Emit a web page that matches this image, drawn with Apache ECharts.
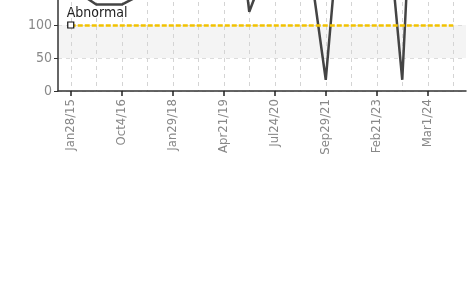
<!DOCTYPE html>
<html>
<head>
<meta charset="utf-8">
<script src="https://cdn.jsdelivr.net/npm/echarts@6/dist/echarts.min.js"></script>
<style>
  html, body { margin: 0; padding: 0; background: #fff; overflow: hidden; width: 474px; height: 303px; }
  /* the chart runs off the top of the frame, as in the reference */
  #main { position: absolute; left: 0; top: -500px; width: 474px; height: 803px; }
</style>
</head>
<body>
<div id="main"></div>
<script>
// categories (only every other one gets a label)
var dates = ['Jan28/15', 'Nov22/15', 'Oct4/16', 'May9/17', 'Jan29/18', 'Aug30/18',
  'Apr21/19', 'Nov6/19', 'Jul24/20', 'Feb15/21', 'Sep29/21', 'May27/22',
  'Feb21/23', 'Aug10/23', 'Mar1/24', 'Jun18/24'];
// readings (most peaks are above the visible frame)
var values = [157, 131, 131, 151, 260, 380, 447, 120, 222, 297, 17, 458, 432, 17, 800, 620];
// abnormal threshold
var threshold = 100;
var thresholdName = 'Abnormal';

var font = '"DejaVu Sans Condensed", "Liberation Sans Narrow", sans-serif';
var myChart = echarts.init(document.getElementById('main'));

myChart.setOption({
    animation: false,
    grid: {
        left: 58,
        right: 8,
        top: 30,
        bottom: 212
    },
    xAxis: {
        type: 'category',
        boundaryGap: true,
        data: dates,
        axisLine: { lineStyle: { color: '#333', width: 1.5 } },
        axisTick: { show: true, alignWithLabel: true, interval: 1, length: 5, lineStyle: { color: '#222', width: 1.5 } },
        axisLabel: { interval: 1, rotate: 90, color: '#888', fontSize: 13, fontFamily: font, margin: 8 },
        splitLine: {
            show: true,
            interval: 0,
            alignWithLabel: true,
            lineStyle: { color: '#d4d4d4', type: [4, 4], width: 1 }
        }
    },
    yAxis: {
        type: 'value',
        min: 0,
        max: 850,
        interval: 50,
        axisLine: { show: true, lineStyle: { color: '#333', width: 1.5 } },
        axisTick: { show: true, length: 4, lineStyle: { color: '#333' } },
        axisLabel: { color: '#888', fontSize: 14, fontFamily: font, margin: 6 },
        splitLine: { show: true, lineStyle: { color: '#dcdcdc', type: [4, 4] } },
        splitArea: { show: true, areaStyle: { color: ['rgba(255,255,255,0)', '#f4f4f4'] } }
    },
    series: [{
        type: 'line',
        data: values,
        symbol: 'none',
        lineStyle: { color: '#444', width: 2.5 },
        markLine: {
            silent: true,
            symbol: 'none',
            label: { show: false },
            lineStyle: { color: '#f2c200', width: 2.5, type: [5, 2] },
            data: [[{ coord: [0, threshold] }, { coord: [dates.length - 1, threshold] }]]
        },
        markPoint: {
            silent: true,
            symbol: 'rect',
            symbolSize: 6,
            itemStyle: { color: '#fff', borderColor: '#111', borderWidth: 1.2 },
            label: {
                show: true,
                position: 'top',
                align: 'left',
                distance: 1,
                offset: [-4, 0],
                formatter: thresholdName,
                color: '#222',
                fontSize: 14,
                fontFamily: font
            },
            data: [{ coord: [0, threshold] }]
        }
    }]
});
</script>
</body>
</html>
